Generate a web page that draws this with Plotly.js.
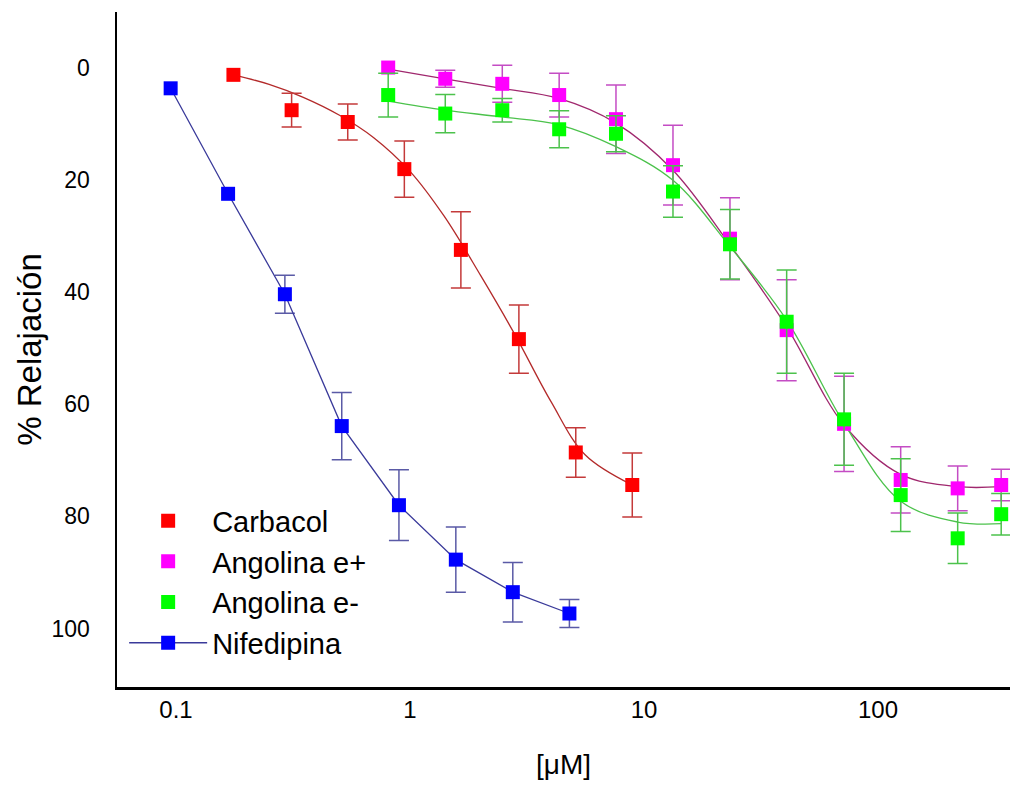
<!DOCTYPE html>
<html>
<head>
<meta charset="utf-8">
<script src="https://cdn.plot.ly/plotly-3.0.1.min.js"></script>
<style>html,body{margin:0;padding:0;background:#fff;}#chart{width:1012px;height:789px;}</style>
</head>
<body>
<div id="chart"></div>
<script>
// ---- Data ----
const carbX = [0.176, 0.312, 0.542, 0.946, 1.65, 2.92, 5.11, 8.91];
const carbY = [1.3, 7.6, 9.7, 18.1, 32.5, 48.4, 68.6, 74.4];
const carbErr = [NaN, 3.0, 3.2, 5.0, 6.8, 6.1, 4.4, 5.7];

const angX = [0.807, 1.415, 2.48, 4.34, 7.59, 13.3, 23.3, 40.7, 71.6, 125, 219, 336];
const angPY = [0, 2.0, 2.9, 4.9, 9.2, 17.4, 30.5, 46.8, 63.5, 73.5, 75.0, 74.4];
const angPErr = [NaN, 1.5, 3.3, 3.9, 6.1, 7.1, 7.3, 9.0, 8.5, 5.9, 4.0, 2.8];
const angMY = [4.9, 8.2, 7.6, 11.0, 11.8, 22.1, 31.5, 45.3, 62.7, 76.2, 83.9, 79.6];
const angMErr = [3.9, 3.4, 2.1, 3.3, 3.2, 4.6, 6.2, 9.2, 8.2, 6.5, 4.5, 3.7];

const nifX = [0.0949, 0.167, 0.292, 0.511, 0.897, 1.57, 2.75, 4.80];
const nifY = [3.7, 22.5, 40.4, 63.9, 78.0, 87.7, 93.5, 97.3];
const nifErr = [NaN, NaN, 3.4, 6.0, 6.3, 5.8, 5.3, 2.5];

// fitted curves
const carbCurveX = [0.176, 0.25, 0.35, 0.5, 0.7, 1.0, 1.4, 2.0, 2.8, 4.0, 5.6, 8.91];
const carbCurveY = [1.3, 3.0, 5.3, 8.5, 12.5, 18.5, 26.5, 37, 47.5, 59.5, 69, 74.4];
const angCurveX = [0.807, 1.41, 2.47, 4.33, 7.59, 13.3, 23.3, 40.7, 71.6, 125, 219, 336];
const angPCurveY = [0.3, 2.0, 3.7, 5.5, 9.9, 18.3, 31.6, 46.2, 63.7, 72.5, 74.7, 74.7];
const angMCurveY = [6.0, 7.6, 8.8, 10.2, 14.1, 20.1, 31.9, 45.0, 63.4, 77.3, 81.0, 81.3];

const xTickVals = [0.1, 1, 10, 100];
const xTickText = ['0.1', '1', '10', '100'];
const yTickVals = [0, 20, 40, 60, 80, 100];

const names = ['Carbacol', 'Angolina e+', 'Angolina e-', 'Nifedipina'];

// ---- Traces ----
function curve(x, y, color) {
  return {x: x, y: y, type: 'scatter', mode: 'lines', showlegend: false, hoverinfo: 'skip',
          line: {color: color, width: 1.3, shape: 'spline', smoothing: 1}};
}
function pts(name, x, y, err, mcolor, ecolor, mode, lcolor) {
  return {x: x, y: y, name: name, type: 'scatter', mode: mode,
          marker: {symbol: 'square', size: 14, color: mcolor},
          line: {color: lcolor || mcolor, width: 1.3},
          error_y: {type: 'data', array: err, visible: true, color: ecolor, thickness: 1.5, width: 10}};
}

const traces = [
  curve(carbCurveX, carbCurveY, '#b32a2a'),
  curve(angCurveX, angPCurveY, '#a0286e'),
  curve(angCurveX, angMCurveY, '#4cc24c'),
  pts(names[0], carbX, carbY, carbErr, '#ff0000', '#c43a3a', 'markers'),
  pts(names[1], angX, angPY, angPErr, '#ff00ff', '#c44cc4', 'markers'),
  pts(names[2], angX, angMY, angMErr, '#00ff00', '#4cc24c', 'markers'),
  pts(names[3], nifX, nifY, nifErr, '#0000ff', '#5a5aa6', 'lines+markers', '#3a3a9a')
];

const layout = {
  width: 1012, height: 789,
  margin: {l: 117, r: 2, t: 12, b: 102},
  paper_bgcolor: '#ffffff', plot_bgcolor: '#ffffff',
  showlegend: true,
  font: {family: 'Liberation Sans, Arial, sans-serif', color: '#000'},
  xaxis: {
    type: 'log', range: [-1.252, 2.564],
    tickvals: xTickVals, ticktext: xTickText,
    showgrid: false, zeroline: false, ticks: '',
    showline: true, linecolor: '#000', linewidth: 2.5,
    tickfont: {family: 'Liberation Sans Narrow, Liberation Sans, Arial', size: 24, color: '#000'},
    ticklabelstandoff: 0,
    title: {text: '[μM]', font: {family: 'Liberation Sans Narrow, Liberation Sans, Arial', size: 28, color: '#000'}, standoff: 32}
  },
  yaxis: {
    range: [110.4, -9.9],
    tickvals: yTickVals,
    showgrid: false, zeroline: false, ticks: '',
    showline: true, linecolor: '#000', linewidth: 2.5,
    tickfont: {size: 23, color: '#000'},
    ticklabelstandoff: 20,
    automargin: true,
    title: {text: '% Relajación', font: {size: 33, color: '#000'}, standoff: 0}
  },
  legend: {
    x: 0.008, y: 0.284, xanchor: 'left', yanchor: 'top',
    bgcolor: 'rgba(0,0,0,0)', borderwidth: 0,
    font: {size: 29, color: '#000'},
    itemwidth: 78,
    tracegroupgap: 0
  }
};

Plotly.newPlot('chart', traces, layout, {displayModeBar: false, staticPlot: true});
</script>
</body>
</html>
